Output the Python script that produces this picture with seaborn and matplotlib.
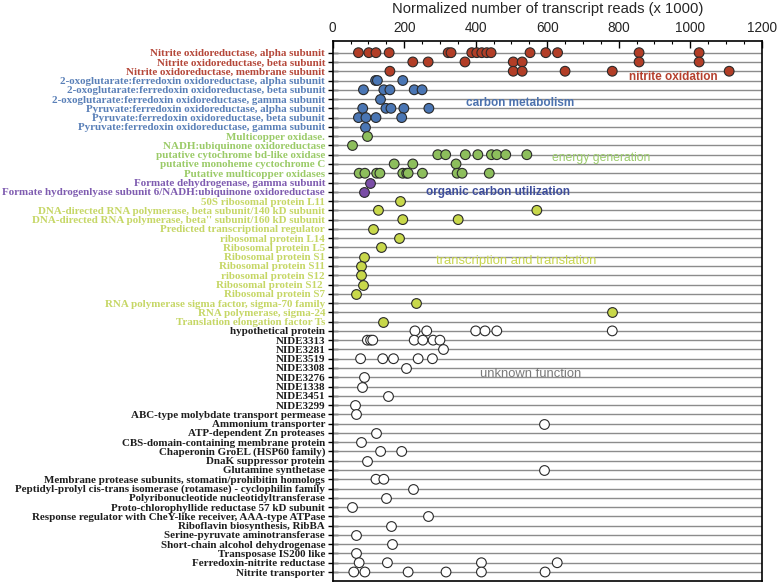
import numpy as np
import pandas as pd
import matplotlib
matplotlib.use("Agg")
import matplotlib.pyplot as plt
import seaborn as sns
from matplotlib.ticker import MultipleLocator

# ---------------- data ----------------
nitrite_genes = [
    "Nitrite oxidoreductase, alpha subunit",
    "Nitrite oxidoreductase, beta subunit",
    "Nitrite oxidoreductase, membrane subunit",
]
nitrite_vals = [
    [72, 101, 121, 158, 323, 331, 389, 403, 417, 431, 443, 552, 596, 629, 857, 1025],
    [224, 267, 370, 505, 530, 857, 1025],
    [160, 505, 530, 650, 782, 1109],
]

carbon_genes = [
    "2-oxoglutarate:ferredoxin oxidoreductase, alpha subunit",
    "2-oxoglutarate:ferredoxin oxidoreductase, beta subunit",
    "2-oxoglutarate:ferredoxin oxidoreductase, gamma subunit",
    "Pyruvate:ferredoxin oxidoreductase, alpha subunit",
    "Pyruvate:ferredoxin oxidoreductase, beta subunit",
    "Pyruvate:ferredoxin oxidoreductase, gamma subunit",
]
carbon_vals = [
    [120, 125, 196],
    [86, 143, 160, 228, 250],
    [132],
    [84, 149, 163, 199, 269],
    [72, 93, 121, 193],
    [90],
]

energy_genes = [
    "Multicopper oxidase.",
    "NADH:ubiquinone oxidoreductase",
    "putative cytochrome bd-like oxidase",
    "putative monoheme cyctochrome C",
    "Putative multicopper oxidases",
]
energy_vals = [
    [97],
    [55],
    [294, 316, 371, 406, 444, 459, 484, 543],
    [172, 224, 345],
    [74, 90, 123, 132, 196, 207, 211, 251, 348, 362, 438],
]

organic_genes = [
    "Formate dehydrogenase, gamma subunit",
    "Formate hydrogenlyase subunit 6/NADH:ubiquinone oxidoreductase",
]
organic_vals = [
    [104],
    [88],
]

transl_genes = [
    "50S ribosomal protein L11",
    "DNA-directed RNA polymerase, beta subunit/140 kD subunit",
    "DNA-directed RNA polymerase, beta'' subunit/160 kD subunit",
    "Predicted transcriptional regulator",
    "ribosomal protein L14",
    "Ribosomal protein L5",
    "Ribosomal protein S1",
    "Ribosomal protein S11",
    "ribosomal protein S12",
    "Ribosomal protein S12 ",
    "Ribosomal protein S7",
    "RNA polymerase sigma factor, sigma-70 family",
    "RNA polymerase, sigma-24",
    "Translation elongation factor Ts",
]
transl_vals = [
    [188],
    [128, 571],
    [196, 351],
    [112],
    [186],
    [135],
    [88],
    [80],
    [80],
    [86],
    [64],
    [232],
    [782],
    [142],
]

unknown_genes = [
    "hypothetical protein",
    "NIDE3313",
    "NIDE3281",
    "NIDE3519",
    "NIDE3308",
    "NIDE3276",
    "NIDE1338",
    "NIDE3451",
    "NIDE3299",
    "ABC-type molybdate transport permease",
    "Ammonium transporter",
    "ATP-dependent Zn proteases",
    "CBS-domain-containing membrane protein",
    "Chaperonin GroEL (HSP60 family)",
    "DnaK suppressor protein",
    "Glutamine synthetase",
    "Membrane protease subunits, stomatin/prohibitin homologs",
    "Peptidyl-prolyl cis-trans isomerase (rotamase) - cyclophilin family",
    "Polyribonucleotide nucleotidyltransferase",
    "Proto-chlorophyllide reductase 57 kD subunit",
    "Response regulator with CheY-like receiver, AAA-type ATPase",
    "Riboflavin biosynthesis, RibBA",
    "Serine-pyruvate aminotransferase",
    "Short-chain alcohol dehydrogenase",
    "Transposase IS200 like",
    "Ferredoxin-nitrite reductase",
    "Nitrite transporter",
]
unknown_vals = [
    [230, 263, 400, 426, 459, 782],
    [97, 106, 112, 228, 252, 281, 300],
    [309],
    [78, 140, 170, 239, 279],
    [205],
    [88],
    [81],
    [156],
    [62],
    [65],
    [592],
    [120],
    [78],
    [134, 193],
    [97],
    [592],
    [121, 143],
    [224],
    [149],
    [53],
    [267],
    [163],
    [64],
    [165],
    [65],
    [74, 153, 416, 628],
    [59, 90, 211, 317, 416, 594],
]

group_names = ["nitrite oxidation", "carbon metabolism", "energy generation",
               "organic carbon utilization", "transcription and translation",
               "unknown function"]
dot_colors = ["#B23E27", "#4A76B4", "#8DBE5C", "#7A4DA6", "#C8D84A", "#FFFFFF"]
label_colors = ["#B5483A", "#5A80B8", "#9BCB68", "#7F5CB0", "#C6D766", "#1E1E1E"]
annot_colors = ["#B5402E", "#4C72AE", "#9BCB6A", "#3E4E9C", "#C9D650", "#7A7A7A"]
annot_pos = [(952, 2.65), (524, 5.46), (750, 11.36), (462, 15.0), (513, 22.47), (555, 34.6)]
annot_size = [8.5, 8.5, 8.7, 8.5, 9.4, 9.4]
annot_weight = ["bold", "bold", "normal", "bold", "normal", "normal"]

groups = [
    (nitrite_genes, nitrite_vals),
    (carbon_genes, carbon_vals),
    (energy_genes, energy_vals),
    (organic_genes, organic_vals),
    (transl_genes, transl_vals),
    (unknown_genes, unknown_vals),
]

rows = []
order = []
gene_group = {}
for gname, (genes, vals) in zip(group_names, groups):
    for g, vs in zip(genes, vals):
        order.append(g)
        gene_group[g] = gname
        for v in vs:
            rows.append({"gene": g, "value": v, "group": gname})
df = pd.DataFrame(rows)

# ---------------- plot ----------------
sns.set_style("white")
fig = plt.figure(figsize=(7.77, 5.82), dpi=100)
ax = fig.add_axes([332.7 / 777, 1 / 582, (761.7 - 332.7) / 777, (581 - 41) / 582])

sns.stripplot(data=df, x="value", y="gene", hue="group", order=order,
              hue_order=group_names, palette=dict(zip(group_names, dot_colors)),
              jitter=False, size=7.0, linewidth=0.8, edgecolor="#2a2a2a",
              legend=False, ax=ax, zorder=3)

ax.set_xlim(0, 1200)
ax.set_ylim(56.97, -1.26)
ax.set_axisbelow(True)
for i in range(len(order)):
    ax.axhline(i, color="#8c8c8c", lw=1.0, zorder=1)

ax.xaxis.tick_top()
ax.xaxis.set_label_position("top")
ax.xaxis.set_major_locator(MultipleLocator(200))
ax.xaxis.set_minor_locator(MultipleLocator(50))
ax.tick_params(axis="x", which="major", direction="in", length=5, width=1,
               color="black", labelsize=9.8, pad=4, top=True, bottom=False)
ax.tick_params(axis="x", which="minor", direction="in", length=2.5, width=0.8,
               color="black", top=True, bottom=False)
for t in ax.get_xticklabels():
    t.set_fontfamily("Liberation Sans")
ax.set_xlabel("Normalized number of transcript reads (x 1000)",
              fontsize=10.6, family="Liberation Sans", labelpad=6)
ax.set_ylabel("")

ax.tick_params(axis="y", direction="inout", length=7, width=1, color="black",
               pad=2, left=True, right=False)
ax.set_yticks(range(len(order)))
ax.set_yticklabels(order)
for t, g in zip(ax.get_yticklabels(), order):
    idx = group_names.index(gene_group[g])
    t.set_color(label_colors[idx])
    t.set_fontfamily("Liberation Serif")
    t.set_fontsize(7.95)
    t.set_fontweight("bold")

for s in ax.spines.values():
    s.set_visible(True)
    s.set_color("black")
    s.set_linewidth(1.2)

for gname, col, (x, y), fs, fw in zip(group_names, annot_colors, annot_pos,
                                      annot_size, annot_weight):
    ax.text(x, y, gname, color=col, fontsize=fs, fontweight=fw,
            family="Liberation Sans", ha="center", va="center", zorder=4)

fig.savefig("out.png", dpi=100)
